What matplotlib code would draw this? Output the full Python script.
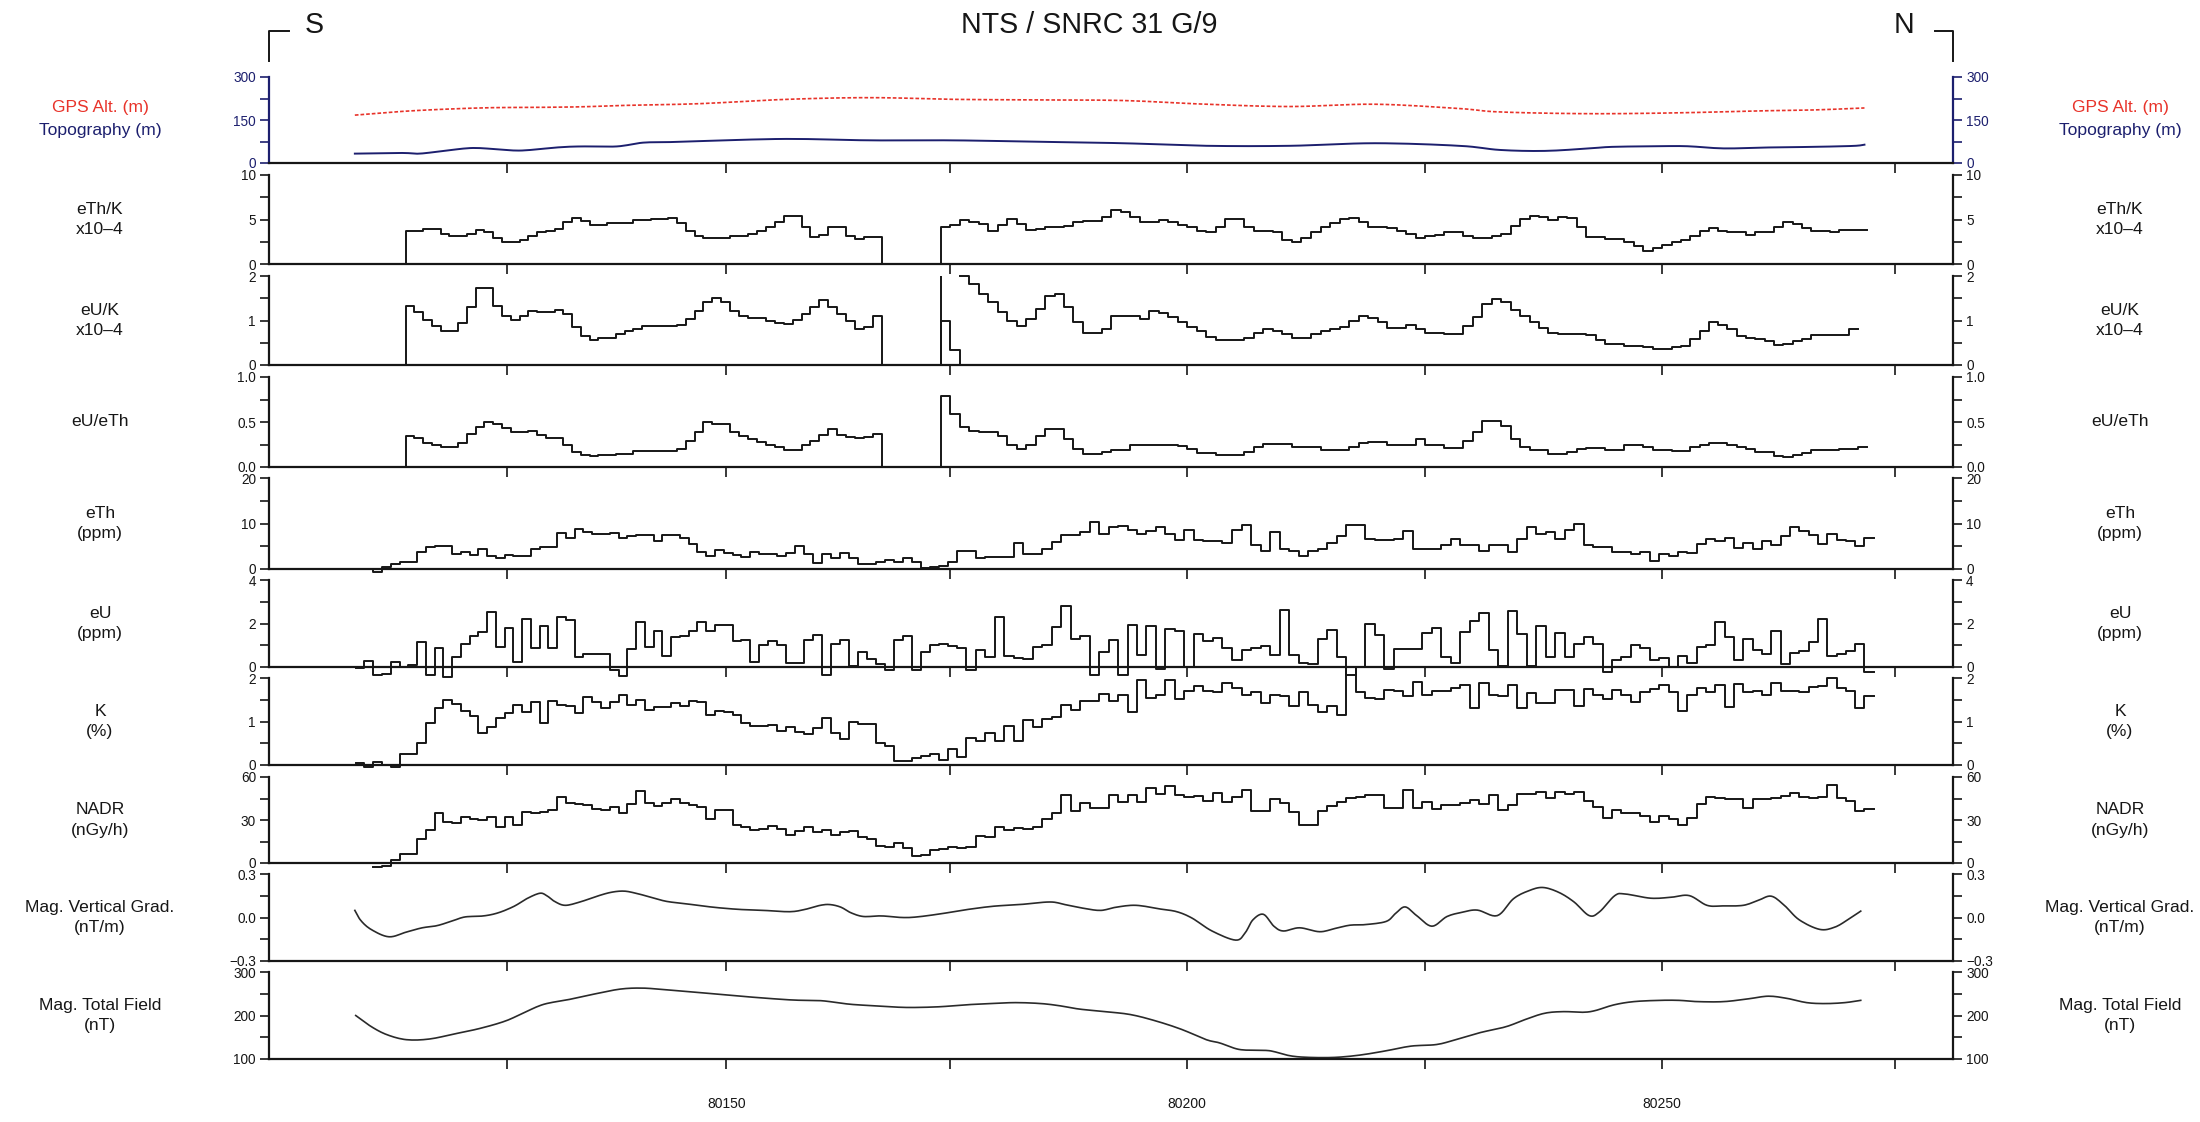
import numpy as np
import matplotlib
matplotlib.use("Agg")
import matplotlib.pyplot as plt
from matplotlib.lines import Line2D
from matplotlib.ticker import MultipleLocator

plt.rcParams['font.family'] = ['Liberation Sans', 'DejaVu Sans']

# fiducial marks and their position along the flight line (not evenly spaced)
fid_ticks = [80100, 80125, 80150, 80175, 80200, 80225, 80250, 80275]
fid_dist = [288, 507, 726, 950, 1187, 1425, 1662, 1895]
x_range = (80097.8, 80281.2)

# GPS altitude and topography (m)
gps_x = [80107.6, 80113.0, 80118.1, 80123.2, 80128.3, 80133.4, 80138.5, 80147.0, 80156.7,
         80166.1, 80175.4, 80184.3, 80193.2, 80202.0, 80210.8, 80219.7, 80228.6, 80232.9,
         80242.3, 80251.8, 80259.0, 80266.2, 80271.7]
gps_alt = [167, 180, 188, 193, 194, 196, 201, 207, 222, 228, 222, 220, 218, 205, 197, 205,
           190, 178, 172, 175, 181, 185, 192]
topo_x = [80107.6, 80113.0, 80115.0, 80118.1, 80121.1, 80124.2, 80126.7, 80130.8, 80133.4,
          80137.5, 80140.5, 80143.6, 80147.0, 80156.7, 80166.1, 80175.4, 80184.3, 80193.2,
          80202.0, 80210.8, 80219.7, 80228.6, 80232.9, 80237.6, 80242.3, 80244.7, 80249.4,
          80252.7, 80256.6, 80261.4, 80266.2, 80270.5, 80271.7]
topo = [32.7, 35, 32.7, 43.6, 52.4, 47, 43.6, 54.5, 57.8, 57.8, 71, 73, 76.4, 84, 79, 79, 74,
        69, 60, 60, 69, 60, 45.5, 42.2, 50.9, 56.3, 58.5, 58.5, 50.9, 54.2, 56.3, 59.6, 63.9]

# ratio channels, one value per fiducial, two segments each
ratio_a_start = 80113.4
ratio_b_start = 80174.0
eth_k_a = [3.75, 3.75, 3.93, 3.93, 3.37, 3.15, 3.15, 3.37, 3.82, 3.56, 2.88, 2.51, 2.51, 2.73,
           3.18, 3.56, 3.75, 3.93, 4.76, 5.13, 4.87, 4.42, 4.42, 4.61, 4.61, 4.61, 4.98, 4.98,
           5.05, 5.1, 5.13, 4.61, 3.75, 3.18, 2.96, 2.96, 2.96, 3.11, 3.11, 3.37, 3.75, 4.12,
           4.68, 5.43, 5.36, 4.12, 3.0, 3.26, 4.12, 4.12, 3.11, 2.81, 3.0, 3.0]
eth_k_b = [4.12, 4.38, 4.94, 4.68, 4.49, 3.75, 4.38, 5.06, 4.49, 3.86, 3.93, 4.12, 4.12, 4.31,
           4.68, 4.87, 4.87, 5.24, 6.07, 5.81, 5.24, 4.76, 4.76, 4.98, 4.76, 4.38, 4.12, 3.75,
           3.56, 4.12, 5.06, 5.06, 4.12, 3.75, 3.75, 3.56, 2.73, 2.51, 2.88, 3.63, 4.12, 4.61,
           5.06, 5.17, 4.68, 4.12, 4.12, 4.04, 3.75, 3.37, 2.92, 3.11, 3.26, 3.56, 3.56, 3.11,
           2.92, 2.92, 3.11, 3.37, 4.23, 5.06, 5.43, 5.24, 4.98, 5.32, 5.17, 4.12, 3.07, 3.07,
           2.81, 2.81, 2.43, 2.06, 1.5, 1.76, 2.17, 2.43, 2.73, 3.18, 3.67, 4.0, 3.75, 3.56,
           3.56, 3.3, 3.56, 3.56, 4.19, 4.68, 4.49, 4.0, 3.75, 3.75, 3.56, 3.82, 3.82, 3.82]

eu_k_a = [1.33, 1.18, 1.02, 0.88, 0.77, 0.77, 0.94, 1.30, 1.72, 1.72, 1.33, 1.11, 1.02, 1.11,
          1.21, 1.18, 1.18, 1.24, 1.15, 0.85, 0.66, 0.56, 0.6, 0.6, 0.7, 0.77, 0.82, 0.88,
          0.88, 0.88, 0.87, 0.9, 1.03, 1.22, 1.41, 1.5, 1.41, 1.22, 1.11, 1.05, 1.05, 1.0,
          0.94, 0.92, 1.02, 1.15, 1.30, 1.45, 1.30, 1.15, 1.0, 0.82, 0.85, 1.11]
eu_k_spike = 2.04
eu_k_glitch = [1.0, 0.34]
eu_k_c_start = 80176.0
eu_k_c = [2.0, 1.82, 1.60, 1.41, 1.18, 1.0, 0.88, 1.03, 1.26, 1.56, 1.60, 1.30, 0.96, 0.73,
          0.73, 0.81, 1.09, 1.09, 1.09, 1.03, 1.21, 1.17, 1.07, 0.96, 0.85, 0.76, 0.62, 0.57,
          0.57, 0.57, 0.6, 0.73, 0.81, 0.76, 0.7, 0.61, 0.61, 0.7, 0.77, 0.81, 0.85, 1.0,
          1.09, 1.05, 0.97, 0.83, 0.83, 0.9, 0.81, 0.73, 0.73, 0.7, 0.7, 0.88, 1.07, 1.37,
          1.48, 1.42, 1.24, 1.09, 0.96, 0.83, 0.73, 0.7, 0.7, 0.7, 0.67, 0.57, 0.47, 0.47,
          0.43, 0.43, 0.4, 0.37, 0.37, 0.4, 0.43, 0.58, 0.76, 0.96, 0.9, 0.81, 0.66, 0.61,
          0.58, 0.53, 0.45, 0.47, 0.55, 0.58, 0.67, 0.67, 0.67, 0.67, 0.81]

eu_eth_a = [0.35, 0.32, 0.27, 0.24, 0.22, 0.22, 0.27, 0.37, 0.44, 0.5, 0.48, 0.43, 0.39, 0.39,
            0.40, 0.36, 0.32, 0.32, 0.24, 0.17, 0.13, 0.12, 0.13, 0.13, 0.15, 0.15, 0.18,
            0.18, 0.18, 0.18, 0.18, 0.2, 0.29, 0.39, 0.5, 0.48, 0.48, 0.39, 0.34, 0.31, 0.28,
            0.25, 0.22, 0.19, 0.19, 0.24, 0.29, 0.36, 0.42, 0.36, 0.33, 0.32, 0.33, 0.37]
eu_eth_b = [0.79, 0.59, 0.44, 0.40, 0.39, 0.39, 0.34, 0.25, 0.2, 0.25, 0.35, 0.42, 0.42, 0.31,
            0.2, 0.14, 0.14, 0.17, 0.19, 0.19, 0.25, 0.25, 0.24, 0.24, 0.24, 0.23, 0.2, 0.16,
            0.16, 0.13, 0.13, 0.13, 0.17, 0.22, 0.26, 0.26, 0.26, 0.22, 0.22, 0.22, 0.19,
            0.19, 0.19, 0.22, 0.27, 0.28, 0.28, 0.24, 0.24, 0.25, 0.31, 0.24, 0.24, 0.21,
            0.21, 0.29, 0.39, 0.51, 0.51, 0.46, 0.31, 0.22, 0.19, 0.19, 0.14, 0.14, 0.17, 0.2,
            0.21, 0.21, 0.19, 0.19, 0.24, 0.24, 0.22, 0.19, 0.19, 0.18, 0.18, 0.22, 0.25,
            0.27, 0.27, 0.24, 0.22, 0.2, 0.17, 0.17, 0.12, 0.11, 0.13, 0.16, 0.19, 0.19, 0.19,
            0.2, 0.2, 0.22]

# concentration channels
conc_start = 80107.7
eth = [-0.1, -0.1, -0.74, 0.37, 1.1, 1.62, 1.62, 3.69, 4.8, 5.0, 5.0, 3.32, 3.84, 3.1, 4.43,
       2.95, 2.36, 3.1, 2.8, 2.8, 4.43, 4.8, 4.8, 7.9, 6.79, 8.86, 8.12, 7.75, 7.75, 7.97,
       6.86, 7.23, 7.38, 7.38, 6.13, 7.38, 7.38, 6.79, 5.39, 3.69, 2.95, 4.28, 3.47, 3.1,
       2.58, 3.69, 3.32, 3.32, 2.8, 3.54, 5.0, 3.32, 1.33, 3.32, 2.36, 3.54, 2.36, 1.1, 1.1,
       1.48, 2.07, 1.48, 2.36, 1.48, 0.15, 0.37, 0.74, 1.48, 4.06, 4.06, 2.36, 2.58, 2.58,
       2.58, 5.68, 3.32, 3.32, 4.43, 5.9, 7.53, 7.53, 8.12, 10.3, 7.75, 9.2, 9.37, 8.49, 7.75,
       8.27, 9.2, 7.75, 6.27, 8.49, 6.27, 6.05, 6.05, 5.68, 8.63, 9.74, 5.17, 4.06, 8.12,
       4.43, 4.06, 2.95, 4.06, 4.43, 5.68, 7.23, 9.74, 9.74, 6.5, 6.27, 6.27, 6.64, 8.27,
       4.43, 4.43, 4.43, 5.17, 6.5, 5.31, 5.17, 4.06, 5.17, 5.17, 3.84, 6.64, 9.2, 7.75,
       8.12, 6.64, 8.63, 9.96, 5.17, 4.8, 4.8, 3.84, 3.84, 3.32, 3.69, 1.85, 3.32, 2.8, 3.69,
       3.54, 5.39, 6.5, 6.05, 6.79, 4.58, 5.76, 4.43, 6.05, 5.17, 7.16, 9.2, 8.27, 7.53,
       5.54, 7.75, 6.27, 6.05, 5.0, 6.86]
eu = [-0.03, 0.27, -0.37, -0.3, 0.25, 0.0, 0.1, 1.16, -0.37, 0.89, -0.47, 0.44, 1.04, 1.41,
      1.6, 2.55, 0.92, 1.78, 0.25, 2.19, 0.89, 1.9, 0.89, 2.3, 2.15, 0.47, 0.62, 0.62, 0.62,
      -0.15, -0.41, 0.81, 2.07, 0.93, 1.67, 0.52, 1.38, 1.44, 1.67, 2.07, 1.66, 1.93, 1.93,
      1.21, 1.26, 0.22, 1.0, 1.21, 0.99, 0.18, 0.18, 1.26, 1.45, -0.37, 1.07, 1.26, 0.03,
      0.67, 0.37, 0.15, -0.12, 1.26, 1.41, -0.12, 0.67, 1.0, 1.07, 0.96, 0.89, -0.15, 0.77,
      0.47, 2.3, 0.52, 0.41, 0.37, 0.93, 1.0, 1.85, 2.81, 1.3, 1.41, -0.37, 0.67, 1.26,
      -0.37, 1.93, 0.53, 1.9, -0.1, 1.75, 1.64, 0.0, 1.53, 1.19, 1.35, 0.86, 0.34, 0.79,
      0.89, 0.96, 0.56, 2.64, 0.53, 0.19, 0.12, 1.27, 1.72, 0.44, -0.36, 0.0, 1.97, 1.45,
      -0.1, 0.83, 0.83, 0.83, 1.57, 1.78, 0.44, 0.19, 1.63, 2.12, 2.49, 0.79, 0.04, 2.56,
      1.53, 0.04, 1.87, 0.44, 1.57, 0.44, 1.08, 1.38, 1.08, -0.25, 0.34, 0.44, 1.0, 0.86,
      0.3, 0.41, 0.0, 0.49, 0.19, 0.93, 1.0, 2.07, 1.38, 0.34, 1.3, 0.79, 0.59, 1.67, 0.12,
      0.64, 0.74, 1.16, 2.19, 0.49, 0.59, 0.74, 1.08, -0.21]
k = [0.04, -0.04, 0.06, 0.0, -0.05, 0.26, 0.26, 0.5, 0.96, 1.3, 1.5, 1.41, 1.24, 1.13, 0.74,
     0.87, 1.07, 1.19, 1.37, 1.22, 1.44, 0.96, 1.46, 1.37, 1.36, 1.19, 1.56, 1.44, 1.31, 1.44,
     1.61, 1.39, 1.5, 1.26, 1.33, 1.33, 1.43, 1.36, 1.46, 1.44, 1.15, 1.24, 1.21, 1.15, 0.96,
     0.89, 0.89, 0.93, 0.78, 0.87, 0.76, 0.72, 0.84, 1.07, 0.74, 0.59, 1.0, 0.94, 0.94, 0.5,
     0.44, 0.1, 0.1, 0.15, 0.2, 0.26, 0.11, 0.37, 0.19, 0.63, 0.56, 0.74, 0.56, 0.89, 0.56,
     1.04, 0.87, 1.06, 1.11, 1.37, 1.26, 1.46, 1.46, 1.63, 1.46, 1.61, 1.22, 1.95, 1.54, 1.61,
     1.95, 1.52, 1.69, 1.81, 1.69, 1.67, 1.89, 1.76, 1.61, 1.67, 1.43, 1.61, 1.59, 1.36, 1.67,
     1.37, 1.21, 1.36, 1.16, 2.25, 1.67, 1.54, 1.52, 1.73, 1.69, 1.58, 1.91, 1.61, 1.69, 1.71,
     1.76, 1.84, 1.3, 1.89, 1.61, 1.59, 1.84, 1.32, 1.65, 1.43, 1.43, 1.73, 1.73, 1.36, 1.74,
     1.61, 1.52, 1.73, 1.61, 1.44, 1.67, 1.74, 1.84, 1.67, 1.24, 1.61, 1.76, 1.67, 1.84, 1.34,
     1.87, 1.67, 1.71, 1.61, 1.89, 1.69, 1.71, 1.67, 1.8, 1.81, 2.0, 1.76, 1.69, 1.32, 1.59]
nadr_start = 80109.7
nadr = [-3.1, -2.2, 1.8, 6.2, 6.2, 16.9, 22.9, 34.7, 28.9, 28.0, 31.8, 30.7, 30.2, 31.8, 25.1,
        31.8, 26.2, 35.6, 34.7, 35.6, 36.9, 45.8, 42.2, 41.3, 40.7, 37.8, 36.9, 39.1, 35.1,
        41.3, 50.0, 42.2, 40.0, 42.2, 44.4, 41.8, 40.7, 39.1, 30.7, 36.9, 37.3, 26.2, 25.1,
        22.9, 24.0, 25.8, 24.0, 19.6, 22.2, 25.1, 21.3, 22.9, 19.6, 21.8, 22.2, 18.4, 16.9,
        11.8, 11.1, 14.0, 10.2, 5.1, 5.8, 8.9, 9.6, 11.1, 10.2, 11.1, 19.1, 17.8, 25.1, 22.9,
        24.4, 24.0, 25.1, 30.7, 34.7, 47.3, 36.2, 42.2, 38.4, 38.4, 47.3, 42.9, 47.3, 42.9,
        52.4, 48.4, 54.0, 47.3, 46.2, 46.7, 43.6, 48.9, 42.9, 46.2, 50.7, 36.2, 36.2, 44.4,
        42.2, 35.6, 26.7, 26.7, 36.2, 39.6, 42.9, 45.1, 46.2, 47.3, 47.3, 38.4, 38.4, 51.1,
        38.4, 42.9, 37.8, 40.7, 40.7, 42.2, 44.0, 41.3, 47.3, 37.3, 40.7, 48.4, 48.0, 49.6,
        45.1, 49.6, 48.0, 49.6, 43.6, 39.1, 31.1, 37.3, 34.7, 34.7, 32.9, 28.4, 32.9, 30.7,
        26.2, 31.1, 41.3, 45.8, 45.1, 44.4, 44.4, 38.4, 44.4, 44.4, 45.1, 46.7, 48.9, 46.2,
        45.1, 46.2, 54.7, 45.1, 43.6, 36.2, 37.8]

# magnetics
vg_x = [80107.6, 80108.3, 80109.5, 80111.5, 80113.5, 80115.3, 80117.0, 80118.8, 80120.2,
        80122.3, 80124.0, 80125.8, 80127.2, 80128.7, 80129.5, 80130.4, 80131.6, 80133.3,
        80135.1, 80136.8, 80138.3, 80139.7, 80141.5, 80143.2, 80145.6, 80148.5, 80151.4,
        80154.2, 80157.1, 80158.8, 80160.5, 80161.6, 80162.8, 80163.9, 80165.3, 80167.3,
        80169.6, 80171.3, 80174.1, 80176.9, 80179.6, 80182.3, 80185.5, 80187.1, 80189.2,
        80190.9, 80192.5, 80194.6, 80197.2, 80198.9, 80200.5, 80202.6, 80205.1, 80206.1,
        80206.9, 80208.0, 80209.1, 80210.1, 80211.8, 80213.9, 80215.5, 80217.1, 80218.7,
        80220.9, 80221.9, 80222.9, 80224.1, 80225.7, 80227.3, 80228.9, 80230.5, 80232.6,
        80234.3, 80235.9, 80237.4, 80239.1, 80240.7, 80242.3, 80243.4, 80245.0, 80246.1,
        80248.8, 80251.0, 80252.9, 80254.8, 80256.5, 80258.7, 80260.3, 80261.7, 80263.1,
        80264.7, 80266.9, 80268.5, 80269.9, 80271.3]
vg = [0.049, -0.022, -0.084, -0.133, -0.1, -0.071, -0.056, -0.022, 0.004, 0.011, 0.033, 0.078,
      0.129, 0.167, 0.151, 0.111, 0.084, 0.107, 0.144, 0.173, 0.182, 0.167, 0.138, 0.111,
      0.093, 0.071, 0.056, 0.049, 0.04, 0.056, 0.084, 0.089, 0.071, 0.033, 0.007, 0.011, 0.0,
      0.004, 0.027, 0.056, 0.078, 0.089, 0.107, 0.089, 0.062, 0.049, 0.071, 0.084, 0.058,
      0.04, -0.004, -0.093, -0.156, -0.104, -0.016, 0.022, -0.06, -0.093, -0.071, -0.098,
      -0.076, -0.053, -0.049, -0.027, 0.029, 0.073, 0.013, -0.06, 0.007, 0.036, 0.051, 0.013,
      0.129, 0.184, 0.207, 0.173, 0.107, 0.013, 0.04, 0.151, 0.162, 0.133, 0.14, 0.151, 0.084,
      0.08, 0.084, 0.118, 0.147, 0.084, -0.016, -0.082, -0.067, -0.016, 0.044]
tf_x = [80107.7, 80109.5, 80111.3, 80113.5, 80116.1, 80119.0, 80121.9, 80124.8, 80127.0,
        80129.2, 80132.1, 80135.0, 80137.9, 80140.4, 80143.0, 80146.6, 80150.3, 80153.8,
        80157.4, 80159.5, 80161.0, 80163.8, 80166.7, 80170.1, 80173.7, 80176.5, 80179.2,
        80181.9, 80184.6, 80186.6, 80188.6, 80191.3, 80194.0, 80196.7, 80199.4, 80202.0,
        80203.4, 80205.4, 80207.4, 80208.8, 80210.8, 80212.8, 80215.5, 80218.1, 80220.8,
        80223.5, 80226.2, 80228.2, 80230.8, 80233.5, 80235.5, 80237.6, 80239.6, 80241.6,
        80242.9, 80244.9, 80247.0, 80249.7, 80251.8, 80253.8, 80256.6, 80259.3, 80261.4,
        80263.4, 80265.5, 80267.5, 80269.6, 80271.3]
tf = [200, 174.1, 155.6, 144.4, 145.9, 157.8, 170.4, 187.4, 207.4, 225.9, 237, 249.6, 260.7,
      263, 259.3, 253.3, 246.7, 240.7, 235.6, 234.8, 233.3, 225.9, 222.2, 218.5, 220, 224.4,
      227.4, 229.6, 227.4, 222.2, 214.8, 208.9, 202.2, 187.4, 168.1, 144.4, 137, 122.2, 120,
      118.5, 107.4, 103.7, 103.7, 108.9, 118.5, 129.6, 133.3, 144.4, 160.7, 174.1, 190.4,
      205.2, 208.9, 207.4, 211.1, 224.4, 231.9, 234.8, 234.8, 231.9, 231.9, 238.5, 244.4,
      239.3, 229.6, 227.4, 229.6, 234.8]

labels = ["eTh/K\nx10\u20134", "eU/K\nx10\u20134", "eU/eTh", "eTh\n(ppm)", "eU\n(ppm)",
          "K\n(%)", "NADR\n(nGy/h)", "Mag. Vertical Grad.\n(nT/m)", "Mag. Total Field\n(nT)"]
yticks = [[0, 5, 10], [0, 1, 2], [0, 0.5, 1.0], [0, 10, 20], [0, 2, 4], [0, 1, 2],
          [0, 30, 60], [-0.3, 0.0, 0.3], [100, 200, 300]]
yticklabels = [["0", "5", "10"], ["0", "1", "2"], ["0.0", "0.5", "1.0"], ["0", "10", "20"],
               ["0", "2", "4"], ["0", "1", "2"], ["0", "30", "60"],
               ["\u22120.3", "0.0", "0.3"], ["100", "200", "300"]]

W, H = 2200, 1122
# panel top/bottom in pixels
rows = [(77, 163), (175, 264), (276, 365), (377, 467), (478, 569), (580, 667), (678, 765),
        (777, 863), (874, 961), (972, 1059)]
left_px, right_px = 269, 1953

RED = '#e8332a'
NAVY = '#1c1f6e'
INK = '#161616'

fa = np.array([fid_ticks[0] - 2000] + fid_ticks + [fid_ticks[-1] + 2000], float)
s0 = (fid_dist[1] - fid_dist[0]) / 25
s1 = (fid_dist[-1] - fid_dist[-2]) / 25
da = np.array([fid_dist[0] - 2000 * s0] + fid_dist + [fid_dist[-1] + 2000 * s1], float)


def fwd(x):
    return np.interp(x, fa, da)


def inv(d):
    return np.interp(d, da, fa)


def smooth(x, y, n=8):
    # Catmull-Rom curve through the read points, for the smooth profiles
    x = np.asarray(x, float)
    y = np.asarray(y, float)
    px = np.r_[x[0], x, x[-1]]
    py = np.r_[y[0], y, y[-1]]
    t = np.linspace(0, 1, n, endpoint=False)[:, None]
    out = []
    for arr in (px, py):
        p0, p1, p2, p3 = arr[:-3], arr[1:-2], arr[2:-1], arr[3:]
        seg = 0.5 * (2 * p1 + (-p0 + p2) * t + (2 * p0 - 5 * p1 + 4 * p2 - p3) * t ** 2
                     + (-p0 + 3 * p1 - 3 * p2 + p3) * t ** 3)
        out.append(np.r_[seg.T.ravel(), arr[-2]])
    return out


def draw_steps(ax, start, vals, drop_start=False, drop_end=False):
    vals = np.asarray(vals, float)
    x = start + np.arange(len(vals) + 1)
    y = np.r_[vals, vals[-1]]
    if drop_start:
        x = np.r_[start, x]
        y = np.r_[0, y]
    if drop_end:
        x = np.r_[x, x[-1]]
        y = np.r_[y, 0]
    ax.step(x, y, where='post', color=INK, lw=0.7, clip_on=False)


fig = plt.figure(figsize=(W / 200, H / 200), dpi=200)
axes = []
for i, (top, bot) in enumerate(rows):
    ax = fig.add_axes([left_px / W, 1 - bot / H, (right_px - left_px) / W, (bot - top) / H])
    ax.set_xscale('function', functions=(fwd, inv))
    ax.set_xlim(*x_range)
    ax.patch.set_visible(False)
    ax.spines['top'].set_visible(False)
    for s in ('left', 'right', 'bottom'):
        ax.spines[s].set_linewidth(0.8)
        ax.spines[s].set_color(INK)
    ax.set_xticks(fid_ticks[1:])
    if i == len(rows) - 1:
        ax.set_xticklabels(['', '80150', '', '80200', '', '80250', ''])
    else:
        ax.set_xticklabels([])
    ax.tick_params(axis='x', which='major', direction='out', length=3.6, width=0.6,
                   labelsize=5, pad=10, colors=INK)
    ax.tick_params(axis='y', which='both', left=True, right=True, labelleft=True,
                   labelright=True, direction='out', length=3.2, width=0.6, labelsize=4.9,
                   pad=1.5, colors=INK)
    axes.append(ax)

# GPS / topography panel
ax = axes[0]
ax.plot(*smooth(gps_x, gps_alt), color=RED, lw=0.6, ls=(0, (2.2, 1.2)))
ax.plot(*smooth(topo_x, topo), color=NAVY, lw=0.7)
ax.set_ylim(0, 300)
ax.set_yticks([0, 150, 300])
ax.yaxis.set_minor_locator(MultipleLocator(75))
ax.tick_params(axis='y', which='both', colors=NAVY)
ax.spines['left'].set_color(NAVY)
ax.spines['right'].set_color(NAVY)

for ax, tk, tl in zip(axes[1:], yticks, yticklabels):
    ax.set_ylim(tk[0], tk[-1])
    ax.set_yticks(tk)
    ax.set_yticklabels(tl)
    ax.yaxis.set_minor_locator(MultipleLocator((tk[1] - tk[0]) / 2))

# ratio panels
draw_steps(axes[1], ratio_a_start, eth_k_a, True, True)
draw_steps(axes[1], ratio_b_start, eth_k_b, True, False)
draw_steps(axes[2], ratio_a_start, eu_k_a, True, True)
axes[2].vlines(ratio_b_start, 0, eu_k_spike, color=INK, lw=0.7)
draw_steps(axes[2], ratio_b_start, eu_k_glitch, True, True)
draw_steps(axes[2], eu_k_c_start, eu_k_c, False, False)
draw_steps(axes[3], ratio_a_start, eu_eth_a, True, True)
draw_steps(axes[3], ratio_b_start, eu_eth_b, True, False)

# concentrations
draw_steps(axes[4], conc_start, eth)
draw_steps(axes[5], conc_start, eu)
draw_steps(axes[6], conc_start, k)
draw_steps(axes[7], nadr_start, nadr)

axes[8].plot(*smooth(vg_x, vg), color='#2a2a2a', lw=0.6)
axes[9].plot(*smooth(tf_x, tf), color='#2a2a2a', lw=0.6)

# channel names on both sides
lx, rx = 100 / W, 2120 / W
for (top, bot), lab in zip(rows[1:], labels):
    yc = 1 - (top + bot) / 2 / H
    for xx in (lx, rx):
        fig.text(xx, yc, lab, ha='center', va='center', fontsize=6.3, linespacing=1.45,
                 color=INK)
gy = 1 - (rows[0][0] + rows[0][1]) / 2 / H
for xx in (lx, rx):
    fig.text(xx, gy + 12 / H, "GPS Alt. (m)", ha='center', va='center', fontsize=6.3,
             color=RED)
    fig.text(xx, gy - 10 / H, "Topography (m)", ha='center', va='center', fontsize=6.3,
             color=NAVY)

# header
fig.text(1089 / W, 1 - 25 / H, "NTS / SNRC 31 G/9", ha='center', va='center', fontsize=10.3,
         color=INK)
fig.text(314 / W, 1 - 25 / H, "S", ha='center', va='center', fontsize=10.3, color=INK)
fig.text(1904 / W, 1 - 25 / H, "N", ha='center', va='center', fontsize=10.3, color=INK)
fig.add_artist(Line2D([left_px / W, left_px / W, 289 / W], [1 - 61 / H, 1 - 31 / H, 1 - 31 / H],
                      transform=fig.transFigure, color=INK, lw=0.7))
fig.add_artist(Line2D([1935 / W, right_px / W, right_px / W], [1 - 31 / H, 1 - 31 / H, 1 - 61 / H],
                      transform=fig.transFigure, color=INK, lw=0.7))

fig.savefig("out.png", dpi=200, facecolor='white')
